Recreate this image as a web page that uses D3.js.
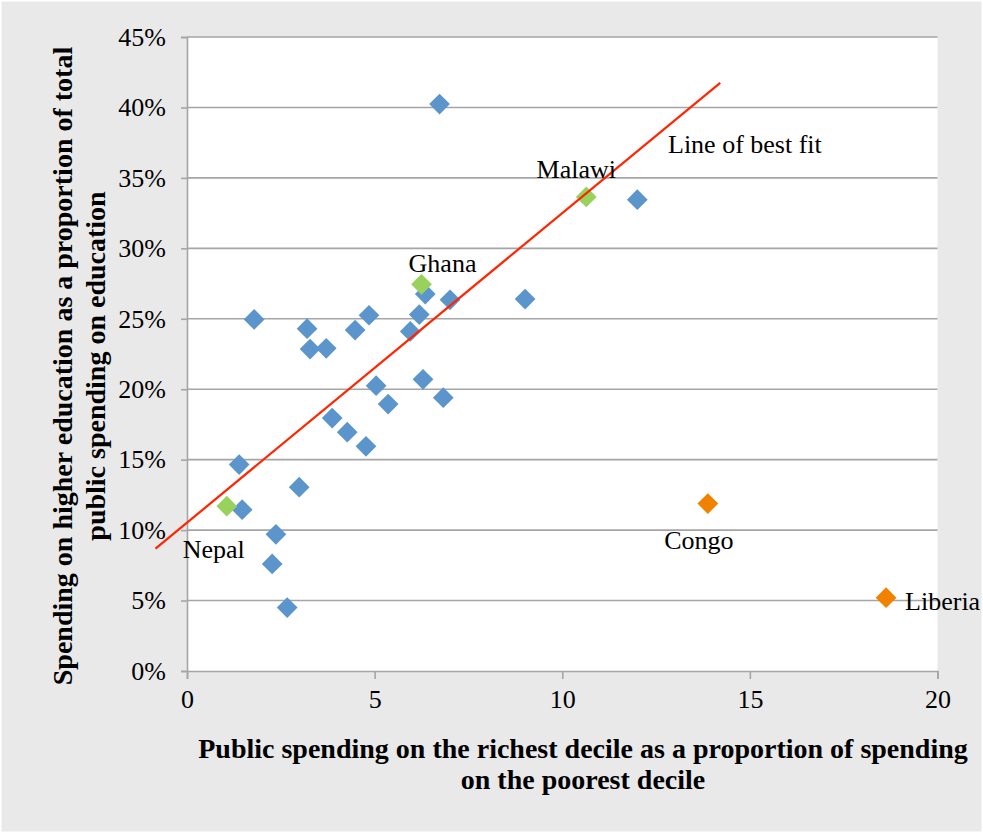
<!DOCTYPE html>
<html>
<head>
<meta charset="utf-8">
<script src="https://cdn.jsdelivr.net/npm/d3@7/dist/d3.min.js"></script>
<style>
  html, body { margin: 0; padding: 0; background: #ffffff; }
  svg { display: block; }
  text { font-family: "Liberation Serif", "Times New Roman", serif; fill: #000; }
</style>
</head>
<body>
<svg id="chart" width="983" height="833"></svg>
<script>
// ---- Data ----
const blueX = [6.73, 12.0, 1.79, 3.2, 3.28, 3.71, 4.48, 4.85, 5.95, 6.19, 6.35, 7.01, 9.01,
               5.04, 5.36, 6.29, 6.83, 3.87, 4.27, 4.77, 1.39, 2.99, 1.47, 2.37, 2.27, 2.67];
const blueY = [40.24, 33.45, 24.95, 24.3, 22.85, 22.9, 24.2, 25.25, 24.1, 25.3, 26.75, 26.35, 26.4,
               20.25, 18.95, 20.7, 19.4, 17.95, 16.95, 15.95, 14.65, 13.05, 11.45, 9.7, 7.6, 4.5];
const greenNames = ["Ghana", "Malawi", "Nepal"];
const greenX = [6.25, 10.64, 1.06];
const greenY = [27.45, 33.65, 11.7];
const orangeNames = ["Congo", "Liberia"];
const orangeX = [13.88, 18.63];
const orangeY = [11.88, 5.2];
const fitX = [-0.84, 14.21];
const fitY = [8.68, 41.75];
const fitLabel = "Line of best fit";
const xTicks = [0, 5, 10, 15, 20];
const yTicks = [0, 5, 10, 15, 20, 25, 30, 35, 40, 45];
const xTitle = ["Public spending on the richest decile as a proportion of spending", "on the poorest decile"];
const yTitle = ["Spending on higher education as a proportion of total", "public spending on education"];

// ---- Layout ----
const W = 983, H = 833;
const L = 187, R = 937.5, T = 37, B = 671;
const svg = d3.select("#chart");

svg.append("rect").attr("x", 1.5).attr("y", 1.5).attr("width", W - 3).attr("height", H - 3)
  .attr("fill", "#e9e9e9");
svg.append("rect").attr("x", L).attr("y", T).attr("width", R - L).attr("height", B - T)
  .attr("fill", "#ffffff");

const x = d3.scaleLinear().domain([0, 20]).range([L, R]);
const y = d3.scaleLinear().domain([0, 45]).range([B, T]);
const gridColor = "#a5a5a5";

// gridlines
svg.append("g").selectAll("line").data(yTicks.filter(d => d > 0)).join("line")
  .attr("x1", L).attr("x2", R).attr("y1", d => y(d)).attr("y2", d => y(d))
  .attr("stroke", gridColor).attr("stroke-width", 1.6);

// y axis
const yAxis = d3.axisLeft(y).tickValues(yTicks).tickSize(6).tickPadding(15).tickFormat(d => d + "%");
const gy = svg.append("g").attr("transform", `translate(${L},0)`).call(yAxis);
gy.select(".domain").attr("stroke", gridColor).attr("stroke-width", 1.6);
gy.selectAll(".tick line").attr("stroke", gridColor).attr("stroke-width", 1.6);
gy.selectAll(".tick text").attr("font-size", 26).attr("font-family", "Liberation Serif").attr("fill", "#000");

// x axis
const xAxis = d3.axisBottom(x).tickValues(xTicks).tickSize(8).tickPadding(11).tickFormat(d3.format("d"));
const gx = svg.append("g").attr("transform", `translate(0,${B})`).call(xAxis);
gx.select(".domain").attr("stroke", gridColor).attr("stroke-width", 1.6);
gx.selectAll(".tick line").attr("stroke", gridColor).attr("stroke-width", 1.6);
gx.selectAll(".tick text").attr("font-size", 26).attr("font-family", "Liberation Serif").attr("fill", "#000");

// diamonds
const diamond = d3.symbol().type(d3.symbolSquare).size(215);
function drawPoints(xs, ys, color) {
  svg.append("g").selectAll("path").data(xs.map((d, i) => [d, ys[i]])).join("path")
    .attr("d", diamond)
    .attr("transform", d => `translate(${x(d[0])},${y(d[1])}) rotate(45)`)
    .attr("fill", color);
}
drawPoints(blueX, blueY, "#5b95cc");
drawPoints(orangeX, orangeY, "#f08200");
drawPoints(greenX, greenY, "#98d25c");

// fit line
svg.append("line")
  .attr("x1", x(fitX[0])).attr("y1", y(fitY[0]))
  .attr("x2", x(fitX[1])).attr("y2", y(fitY[1]))
  .attr("stroke", "#ff2500").attr("stroke-width", 2.2);

// point labels
const labelFont = 26;
const labelPlace = {
  Ghana:   { dx: 21, dy: -21, anchor: "middle" },
  Malawi:  { dx: -10, dy: -28, anchor: "middle" },
  Nepal:   { dx: -13, dy: 43, anchor: "middle" },
  Congo:   { dx: -9, dy: 36, anchor: "middle" },
  Liberia: { dx: 19, dy: 3, anchor: "start" }
};
function drawLabels(names, xs, ys) {
  svg.append("g").selectAll("text").data(names).join("text")
    .attr("x", (d, i) => x(xs[i]) + labelPlace[d].dx)
    .attr("y", (d, i) => y(ys[i]) + labelPlace[d].dy)
    .attr("dy", "0.35em")
    .attr("text-anchor", d => labelPlace[d].anchor)
    .attr("font-size", labelFont)
    .text(d => d);
}
drawLabels(greenNames, greenX, greenY);
drawLabels(orangeNames, orangeX, orangeY);

svg.append("text").attr("x", 668).attr("y", 144).attr("dy", "0.35em")
  .attr("font-size", labelFont).text(fitLabel);

// axis titles
svg.append("g").selectAll("text").data(xTitle).join("text")
  .attr("x", 583).attr("y", (d, i) => 748 + i * 31).attr("dy", "0.35em")
  .attr("text-anchor", "middle").attr("font-size", 28).attr("font-weight", "bold")
  .text(d => d);

svg.append("g").selectAll("text").data(yTitle).join("text")
  .attr("transform", (d, i) => `translate(${62 + i * 33},366) rotate(-90)`)
  .attr("dy", "0.35em")
  .attr("text-anchor", "middle").attr("font-size", 28).attr("font-weight", "bold")
  .text(d => d);
</script>
</body>
</html>
